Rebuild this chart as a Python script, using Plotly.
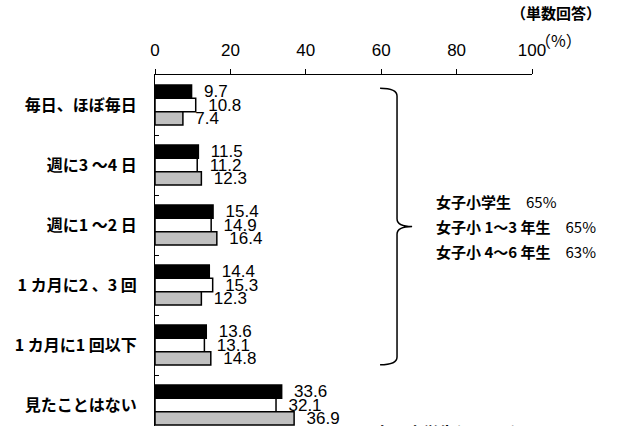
import plotly.graph_objects as go

categories = ["毎日、ほぼ毎日", "週に3 ～4 日", "週に1 ～2 日", "1 カ月に2 、3 回", "1 カ月に1 回以下", "見たことはない"]
series_names = ["女子小学生(N=300)", "女子小1～3年生", "女子小4～6年生"]
all_girls = [9.7, 11.5, 15.4, 14.4, 13.6, 33.6]
grade_1_3 = [10.8, 11.2, 14.9, 15.3, 13.1, 32.1]
grade_4_6 = [7.4, 12.3, 16.4, 12.3, 14.8, 36.9]
x_ticks = [0, 20, 40, 60, 80, 100]
summary_lines = ["女子小学生\u3000<span style='font-weight:normal'>65%</span>",
                 "女子小 1～3 年生\u3000<span style='font-weight:normal'>65%</span>",
                 "女子小 4～6 年生\u3000<span style='font-weight:normal'>63%</span>"]

series = [all_girls, grade_1_3, grade_4_6]
fills = ["#000000", "#ffffff", "#c0c0c0"]

CJK = "Noto Sans CJK JP"
NARROW = "Liberation Sans Narrow, Arial Narrow, sans-serif"

fig = go.Figure()
for name, vals, col in zip(series_names, series, fills):
    fig.add_trace(go.Bar(
        y=categories, x=vals, name=name, orientation="h",
        marker=dict(color=col, line=dict(color="#000000", width=1.5)),
        text=[f"\u00a0\u00a0{v:.1f}" for v in vals],
        textposition="outside", constraintext="none", cliponaxis=False,
        textfont=dict(family=NARROW, size=17, color="#000000"),
        showlegend=False,
    ))

# brace spanning the first five categories
top = -0.5 + 0.22
bot = 4 + 0.33
mid = (top + bot) / 2
xl, xv, xt = 59.7, 64.2, 68.2
c = 0.13
path = (f"M {xl},{top} Q {xv},{top} {xv},{top + c} "
        f"L {xv},{mid - c} Q {xv},{mid} {xt},{mid} "
        f"Q {xv},{mid} {xv},{mid + c} "
        f"L {xv},{bot - c} Q {xv},{bot} {xl},{bot}")
fig.add_shape(type="path", path=path, xref="x", yref="y",
              line=dict(color="#000000", width=1.5))

for i, line in enumerate(summary_lines):
    fig.add_annotation(x=74.0, y=mid + (i - 1) * 0.42, xref="x", yref="y",
                       text=line, showarrow=False, xanchor="left", yanchor="middle",
                       font=dict(family=CJK, size=15, color="#000000", weight="bold"))

fig.add_annotation(x=1.064, y=1.177, xref="paper", yref="paper", text="（単数回答）",
                   showarrow=False, xanchor="center", yanchor="middle",
                   font=dict(family=CJK, size=15, color="#000000", weight="bold"))
fig.add_annotation(x=1.07, y=1.10, xref="paper", yref="paper", text="（%）",
                   showarrow=False, xanchor="center", yanchor="middle",
                   font=dict(family=CJK, size=16, color="#000000"))
fig.add_annotation(x=0.536, y=0.022, xref="paper", yref="paper",
                   text="■" + series_names[0],
                   showarrow=False, xanchor="left", yanchor="top",
                   font=dict(family=CJK, size=16, color="#000000", weight="bold"))

fig.update_layout(
    width=640, height=426,
    margin=dict(l=155, r=108, t=75, b=0, autoexpand=False),
    paper_bgcolor="#ffffff", plot_bgcolor="#ffffff",
    barmode="group", bargap=0.333, bargroupgap=0,
    xaxis=dict(range=[0, 100], side="top", tickvals=x_ticks,
               ticks="outside", ticklen=5, tickcolor="#000000",
               showline=True, linecolor="#000000", linewidth=1,
               showgrid=False, zeroline=False, ticklabelstandoff=6,
               tickfont=dict(family="Liberation Sans, Arial, sans-serif", size=17, color="#000000")),
    yaxis=dict(type="category", categoryorder="array", categoryarray=categories,
               range=[5.35, -0.5], tickson="boundaries", ticks="inside",
               ticklen=4, tickcolor="#000000",
               showline=True, linecolor="#000000", linewidth=1,
               showgrid=False, zeroline=False, ticklabelstandoff=14,
               tickfont=dict(family=CJK, size=16, color="#000000", weight="bold")),
)

fig.write_html("out.html")
